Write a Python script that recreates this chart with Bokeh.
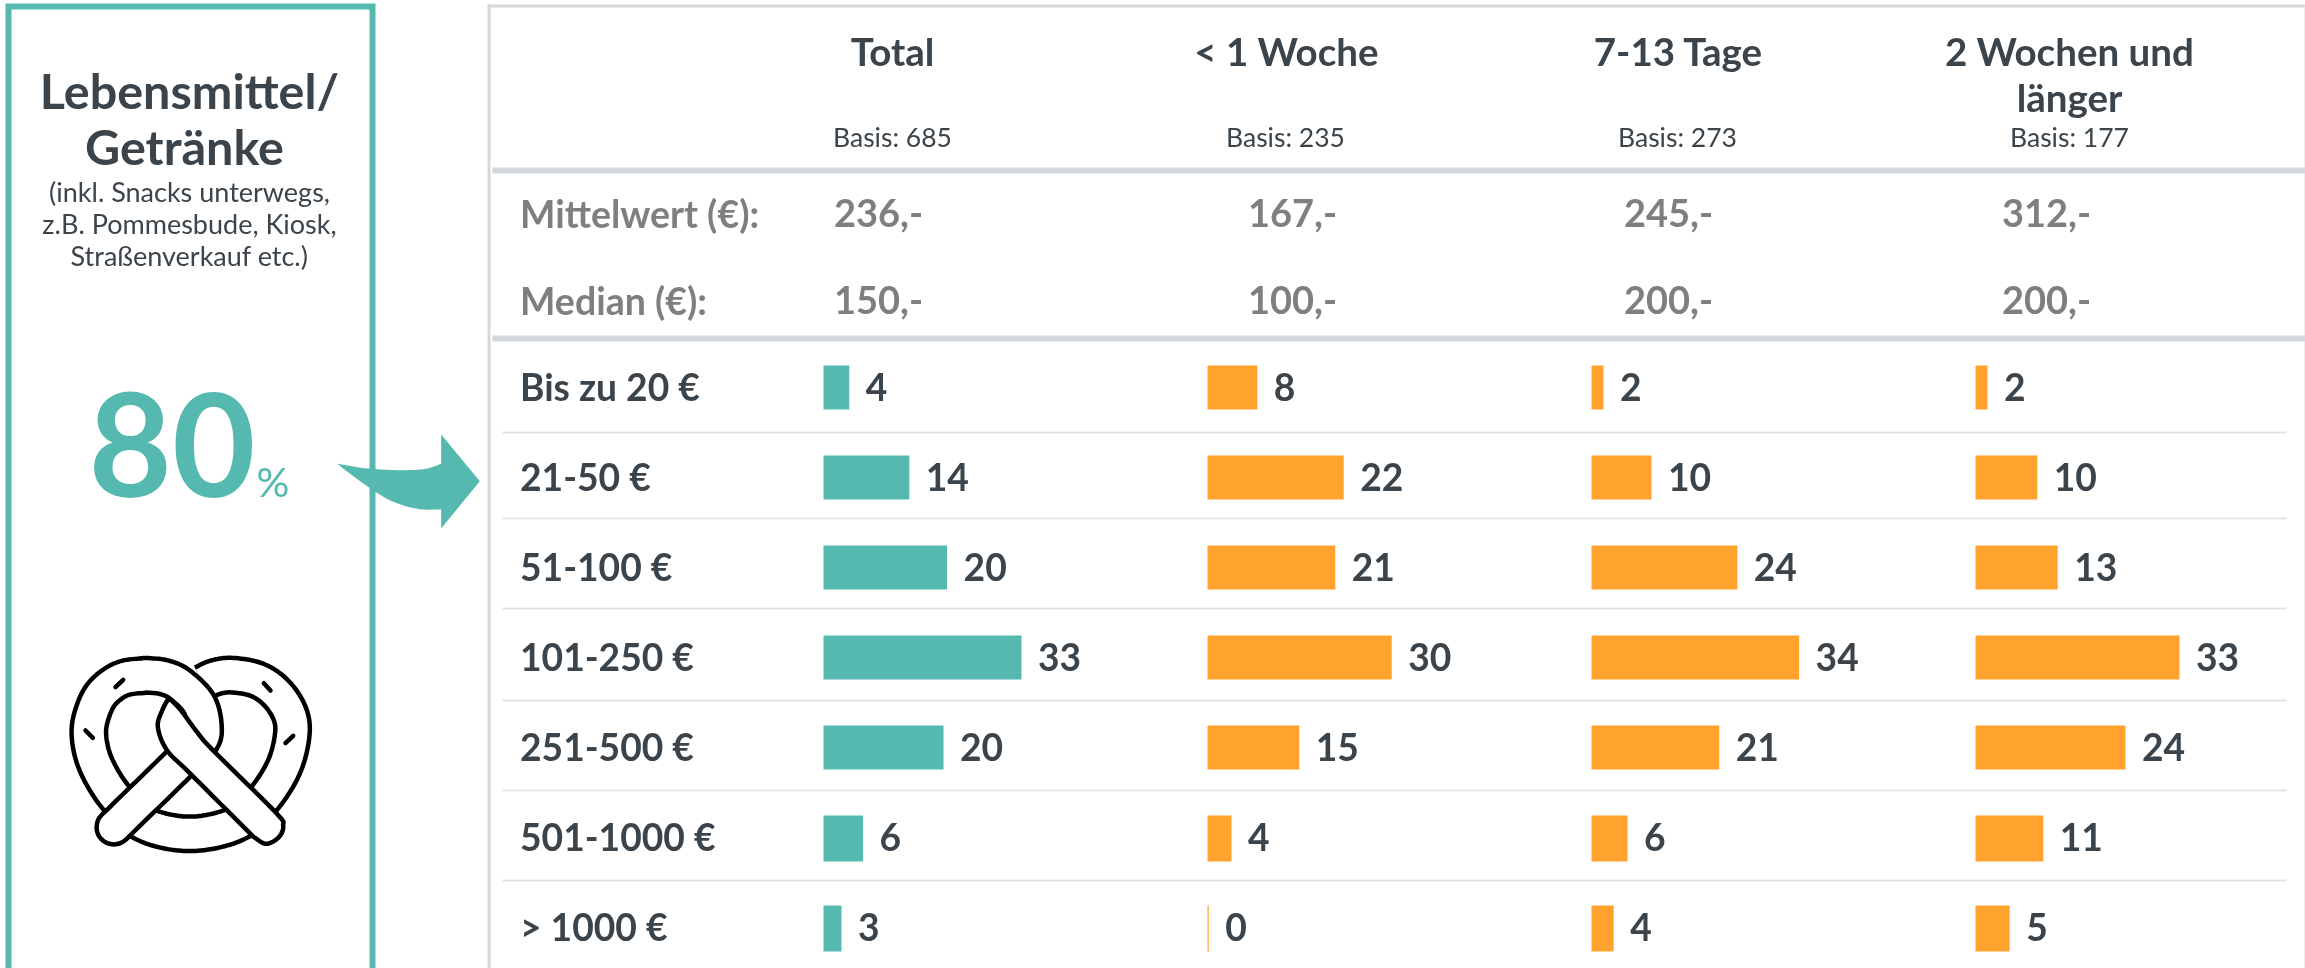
from bokeh.plotting import figure
from bokeh.models import Range1d
from bokeh.embed import file_html
from bokeh.resources import INLINE
from bokeh.core.properties import value
import numpy as np

W, H = 2305, 968
TEAL = "#55B9B0"
ORANGE = "#FFA22E"
DARK = "#3C444B"
GRAY = "#7F7F7F"
RULE = "#D4D8DB"
THIN = "#E3E4E5"

categories = ["Bis zu 20 €", "21-50 €", "51-100 €", "101-250 €", "251-500 €", "501-1000 €", "> 1000 €"]
columns = ["Total", "< 1 Woche", "7-13 Tage", "2 Wochen und\nlänger"]
bases = ["Basis: 685", "Basis: 235", "Basis: 273", "Basis: 177"]
mittelwert = ["236,-", "167,-", "245,-", "312,-"]
median = ["150,-", "100,-", "200,-", "200,-"]

# bar lengths as measured, printed labels as shown
total_bar = [4.3, 14.3, 20.6, 33.0, 20.0, 6.6, 3.0]
week1_bar = [8.3, 22.7, 21.3, 30.7, 15.3, 4.0, 0.2]
days_bar = [2.0, 10.0, 24.3, 34.6, 21.3, 6.0, 3.7]
weeks2_bar = [2.0, 10.3, 13.7, 34.0, 25.0, 11.3, 5.7]
total_lab = [4, 14, 20, 33, 20, 6, 3]
week1_lab = [8, 22, 21, 30, 15, 4, 0]
days_lab = [2, 10, 24, 34, 21, 6, 4]
weeks2_lab = [2, 10, 13, 33, 24, 11, 5]

p = figure(width=W, height=H, output_backend="svg", toolbar_location=None,
           x_range=Range1d(0, W), y_range=Range1d(H, 0), min_border=0,
           x_axis_type=None, y_axis_type=None, outline_line_color=None,
           background_fill_color="white", border_fill_color="white")
p.grid.visible = False
p.styles = {"position": "fixed", "left": "0px", "top": "0px"}

# one value scale per column, one row scale
PX_PER_UNIT = 6.0
col_x0 = [823, 1207, 1591, 1975]
col_names = ["c0", "c1", "c2", "c3"]
p.extra_x_ranges = {n: Range1d(-x0 / PX_PER_UNIT, (W - x0) / PX_PER_UNIT) for n, x0 in zip(col_names, col_x0)}
ROW_TOP, PITCH = 365, 90
p.extra_y_ranges = {"rows": Range1d((H - ROW_TOP) / PITCH, -ROW_TOP / PITCH)}

FONT = value("Lato")


def shift(size):
    # renderer sets alphabetic text about 0.41 em too low otherwise
    return -0.41 * size + 1.5


def txt(x, y, s, size, color=DARK, bold=True, align="left"):
    return p.text([x], [y], text=[s], text_font=FONT, text_font_size=f"{size}px", text_color=color,
                  text_font_style="bold" if bold else "normal", text_align=align, text_baseline="alphabetic",
                  y_offset=shift(size))


# ---------- right table frame ----------
p.line([488.5, 488.5], [H, 4], line_color=RULE, line_width=3)
p.line([487, W], [5.5, 5.5], line_color=RULE, line_width=3)
p.line([2304.5, 2304.5], [5, H], line_color="#E8E9EA", line_width=1.5)
for yy in (170, 338):
    p.line([492, W], [yy, yy], line_color=RULE, line_width=6)
for yy in (432, 518, 608, 700, 790, 880):
    p.line([502, 2286], [yy, yy], line_color=THIN, line_width=2)

# ---------- headers ----------
head_cx = [892, 1286, 1678, 2069]
base_cx = [892, 1285, 1677, 2069]
for cx, bx, c, b in zip(head_cx, base_cx, columns, bases):
    for i, part in enumerate(c.split("\n")):
        txt(cx, 65 + 46 * i, part, 38.5, align="center")
    txt(bx, 146, b, 26.5, bold=False, align="center")

txt(519.5, 227, "Mittelwert (€):", 37.5, GRAY)
txt(519.5, 314, "Median (€):", 37.5, GRAY)
for x, a, b in zip([833.5, 1247.5, 1623.5, 2001.5], mittelwert, median):
    txt(x, 227, a, 38, GRAY)
    txt(x, 314, b, 38, GRAY)

# ---------- rows ----------
ROW_SIZE = 37.2
rows = list(range(len(categories)))
bar_thick = [44 / PITCH] * 5 + [46 / PITCH] * 2
p.text([519.5] * 7, [r + 35 / PITCH for r in rows], text=categories, y_range_name="rows",
       text_font=FONT, text_font_size=f"{ROW_SIZE}px", text_font_style="bold", text_color=DARK,
       text_baseline="alphabetic", y_offset=shift(ROW_SIZE))
series = [(total_bar, total_lab, TEAL), (week1_bar, week1_lab, ORANGE),
          (days_bar, days_lab, ORANGE), (weeks2_bar, weeks2_lab, ORANGE)]
for name, (bars, labs, col) in zip(col_names, series):
    p.quad(left=[0] * 7, right=bars, top=rows, bottom=[r + t for r, t in zip(rows, bar_thick)],
           x_range_name=name, y_range_name="rows", fill_color=col, line_color=None)
    p.text(bars, [r + 35 / PITCH for r in rows], text=[str(v) for v in labs],
           x_range_name=name, y_range_name="rows", x_offset=16.5,
           text_font=FONT, text_font_size=f"{ROW_SIZE}px", text_font_style="bold", text_color=DARK,
           text_baseline="alphabetic", y_offset=shift(ROW_SIZE))

# ---------- left panel ----------
p.line([8, 8, 372, 372], [H + 10, 6, 6, H + 10], line_color=TEAL, line_width=6, line_join="miter")
txt(189, 108, "Lebensmittel/", 48.5, align="center")
txt(184, 163.5, "Getränke", 48.5, align="center")
txt(189, 201, "(inkl. Snacks unterwegs,", 27, bold=False, align="center")
txt(189, 233, "z.B. Pommesbude, Kiosk,", 27, bold=False, align="center")
txt(189, 265, "Straßenverkauf etc.)", 27, bold=False, align="center")
txt(88, 502, "80", 144, TEAL)
txt(256, 496, "%", 41, TEAL, bold=False)


def smooth(pts, n=10):
    """Catmull-Rom through hand-placed outline points (zoomed crop units)."""
    pts = np.array(pts, float)
    q = np.vstack([2 * pts[0] - pts[1], pts, 2 * pts[-1] - pts[-2]])
    out = []
    for i in range(1, len(q) - 2):
        for t in np.linspace(0, 1, n, endpoint=False):
            a, b, c, d = q[i - 1], q[i], q[i + 1], q[i + 2]
            out.append(0.5 * (2 * b + (c - a) * t + (2 * a - 5 * b + 4 * c - d) * t ** 2 + (3 * b - a - 3 * c + d) * t ** 3))
    out.append(pts[-1])
    return np.array(out)


# ---------- arrow ----------
top_curve = smooth([(1010, 1390), (1100, 1404), (1200, 1409), (1275, 1405), (1322, 1390)]) / 3
bot_curve = smooth([(1322, 1527), (1250, 1525), (1170, 1500), (1090, 1450), (1010, 1390)]) / 3
ax = list(top_curve[:, 0]) + [1322 / 3, 1438 / 3, 1322 / 3] + list(bot_curve[:, 0])
ay = list(top_curve[:, 1]) + [1302 / 3, 1442 / 3, 1584 / 3] + list(bot_curve[:, 1])
p.patch(ax, ay, fill_color=TEAL, line_color=None)


# ---------- pretzel ----------
def ic(a):
    return a[:, 0] / 3, a[:, 1] / 3 + 500


OUT, IN = 39, 30
seg1 = smooth([(605, 548), (645, 530), (695, 524), (770, 538), (828, 578), (868, 640), (875, 705), (850, 800),
               (790, 895), (708, 970), (567, 1000), (430, 970), (345, 890), (285, 790), (265, 700), (278, 630),
               (308, 575), (365, 535), (438, 524)])
seg2 = smooth([(438, 524), (490, 530), (538, 552), (595, 610), (612, 680), (600, 725), (535, 790), (340, 980)])
x1, y1 = ic(seg1)
p.line(x1, y1, line_color="black", line_width=OUT, line_cap="butt", line_join="round")
p.line(x1, y1, line_color="white", line_width=IN, line_cap="butt", line_join="round")
# second stroke: its black starts slightly back along the first, its white further
# back still, so the butt end of the black is covered and the joint does not show
x2, y2 = ic(seg2[1:])
bx = np.r_[x1[-3:], x2]
by = np.r_[y1[-3:], y2]
wx = np.r_[x1[-12:], x2]
wy = np.r_[y1[-12:], y2]
p.line(bx, by, line_color="black", line_width=OUT, line_cap="butt", line_join="round")
p.scatter([x2[-1]], [y2[-1]], size=OUT - 4.5, marker="circle", fill_color="white", line_color="black", line_width=4.5)
p.line(wx, wy, line_color="white", line_width=IN, line_cap="butt", line_join="round")

right_edge = smooth([(505, 592), (540, 628), (590, 695), (640, 752), (825, 935), (848, 975), (835, 1010), (797, 1030), (760, 1010)])
left_edge = smooth([(760, 1010), (570, 820), (500, 750), (472, 680), (485, 630), (505, 592)])
sx, sy = ic(np.vstack([right_edge, left_edge]))
p.patch(sx, sy, fill_color="white", line_color="black", line_width=4.5, line_join="round")

p.multi_line([[345 / 3, 368 / 3], [790 / 3, 810 / 3], [255 / 3, 277 / 3], [855 / 3, 878 / 3]],
             [[560 / 3 + 500, 538 / 3 + 500], [548 / 3 + 500, 570 / 3 + 500], [690 / 3 + 500, 712 / 3 + 500], [728 / 3 + 500, 706 / 3 + 500]],
             line_color="black", line_width=4.5, line_cap="round")

open("out.html", "w").write(file_html(p, INLINE))
